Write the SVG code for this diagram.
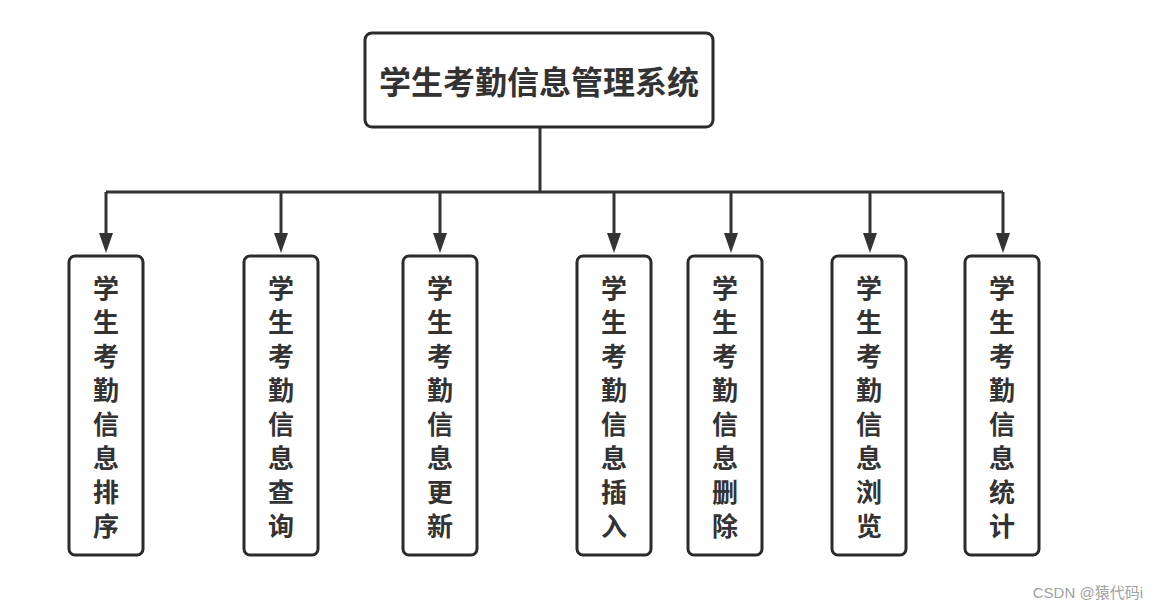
<svg xmlns="http://www.w3.org/2000/svg" width="1157" height="611" viewBox="0 0 1157 611">
<defs>
<style>
.box{fill:#fff;stroke:#2b2b2b;stroke-width:3}
.t{font-family:"Noto Sans CJK SC","Noto Sans",sans-serif;font-weight:bold;fill:#333;text-anchor:middle}
.c{font-size:26px}
.conn{fill:none;stroke:#333;stroke-width:3}
.ah{fill:#333}
</style>
</defs>
<rect width="1157" height="611" fill="#fff"/>
<g id="connectors">
<path class="conn" d="M540,127 V192"/>
<path class="conn" d="M106,192 H1003"/>
<path class="conn" d="M106,192 V233"/>
<path class="ah" d="M99,233 L113,233 L106,253 Z"/>
<path class="conn" d="M281,192 V233"/>
<path class="ah" d="M274,233 L288,233 L281,253 Z"/>
<path class="conn" d="M440,192 V233"/>
<path class="ah" d="M433,233 L447,233 L440,253 Z"/>
<path class="conn" d="M614,192 V233"/>
<path class="ah" d="M607,233 L621,233 L614,253 Z"/>
<path class="conn" d="M731,192 V233"/>
<path class="ah" d="M724,233 L738,233 L731,253 Z"/>
<path class="conn" d="M870,192 V233"/>
<path class="ah" d="M863,233 L877,233 L870,253 Z"/>
<path class="conn" d="M1003,192 V233"/>
<path class="ah" d="M996,233 L1010,233 L1003,253 Z"/>
</g>
<g id="root">
<rect class="box" x="365" y="33" width="348" height="94" rx="7"/>
<text class="t" x="539" y="94" font-size="32">学生考勤信息管理系统</text>
</g>
<g id="n1">
<rect class="box" x="69" y="256" width="74" height="299" rx="6"/>
<text class="t c" x="106"><tspan x="106" y="298">学</tspan><tspan x="106" y="332">生</tspan><tspan x="106" y="366">考</tspan><tspan x="106" y="400">勤</tspan><tspan x="106" y="434">信</tspan><tspan x="106" y="468">息</tspan><tspan x="106" y="502">排</tspan><tspan x="106" y="536">序</tspan></text>
</g>
<g id="n2">
<rect class="box" x="244" y="256" width="74" height="299" rx="6"/>
<text class="t c" x="281"><tspan x="281" y="298">学</tspan><tspan x="281" y="332">生</tspan><tspan x="281" y="366">考</tspan><tspan x="281" y="400">勤</tspan><tspan x="281" y="434">信</tspan><tspan x="281" y="468">息</tspan><tspan x="281" y="502">查</tspan><tspan x="281" y="536">询</tspan></text>
</g>
<g id="n3">
<rect class="box" x="403" y="256" width="74" height="299" rx="6"/>
<text class="t c" x="440"><tspan x="440" y="298">学</tspan><tspan x="440" y="332">生</tspan><tspan x="440" y="366">考</tspan><tspan x="440" y="400">勤</tspan><tspan x="440" y="434">信</tspan><tspan x="440" y="468">息</tspan><tspan x="440" y="502">更</tspan><tspan x="440" y="536">新</tspan></text>
</g>
<g id="n4">
<rect class="box" x="577" y="256" width="74" height="299" rx="6"/>
<text class="t c" x="614"><tspan x="614" y="298">学</tspan><tspan x="614" y="332">生</tspan><tspan x="614" y="366">考</tspan><tspan x="614" y="400">勤</tspan><tspan x="614" y="434">信</tspan><tspan x="614" y="468">息</tspan><tspan x="614" y="502">插</tspan><tspan x="614" y="536">入</tspan></text>
</g>
<g id="n5">
<rect class="box" x="688" y="256" width="74" height="299" rx="6"/>
<text class="t c" x="725"><tspan x="725" y="298">学</tspan><tspan x="725" y="332">生</tspan><tspan x="725" y="366">考</tspan><tspan x="725" y="400">勤</tspan><tspan x="725" y="434">信</tspan><tspan x="725" y="468">息</tspan><tspan x="725" y="502">删</tspan><tspan x="725" y="536">除</tspan></text>
</g>
<g id="n6">
<rect class="box" x="832" y="256" width="74" height="299" rx="6"/>
<text class="t c" x="869"><tspan x="869" y="298">学</tspan><tspan x="869" y="332">生</tspan><tspan x="869" y="366">考</tspan><tspan x="869" y="400">勤</tspan><tspan x="869" y="434">信</tspan><tspan x="869" y="468">息</tspan><tspan x="869" y="502">浏</tspan><tspan x="869" y="536">览</tspan></text>
</g>
<g id="n7">
<rect class="box" x="965" y="256" width="74" height="299" rx="6"/>
<text class="t c" x="1002"><tspan x="1002" y="298">学</tspan><tspan x="1002" y="332">生</tspan><tspan x="1002" y="366">考</tspan><tspan x="1002" y="400">勤</tspan><tspan x="1002" y="434">信</tspan><tspan x="1002" y="468">息</tspan><tspan x="1002" y="502">统</tspan><tspan x="1002" y="536">计</tspan></text>
</g>
<text x="1143" y="598" font-family="'Liberation Sans','Noto Sans CJK SC',sans-serif" font-size="15" fill="#a0a0a0" text-anchor="end">CSDN @猿代码i</text>
</svg>
